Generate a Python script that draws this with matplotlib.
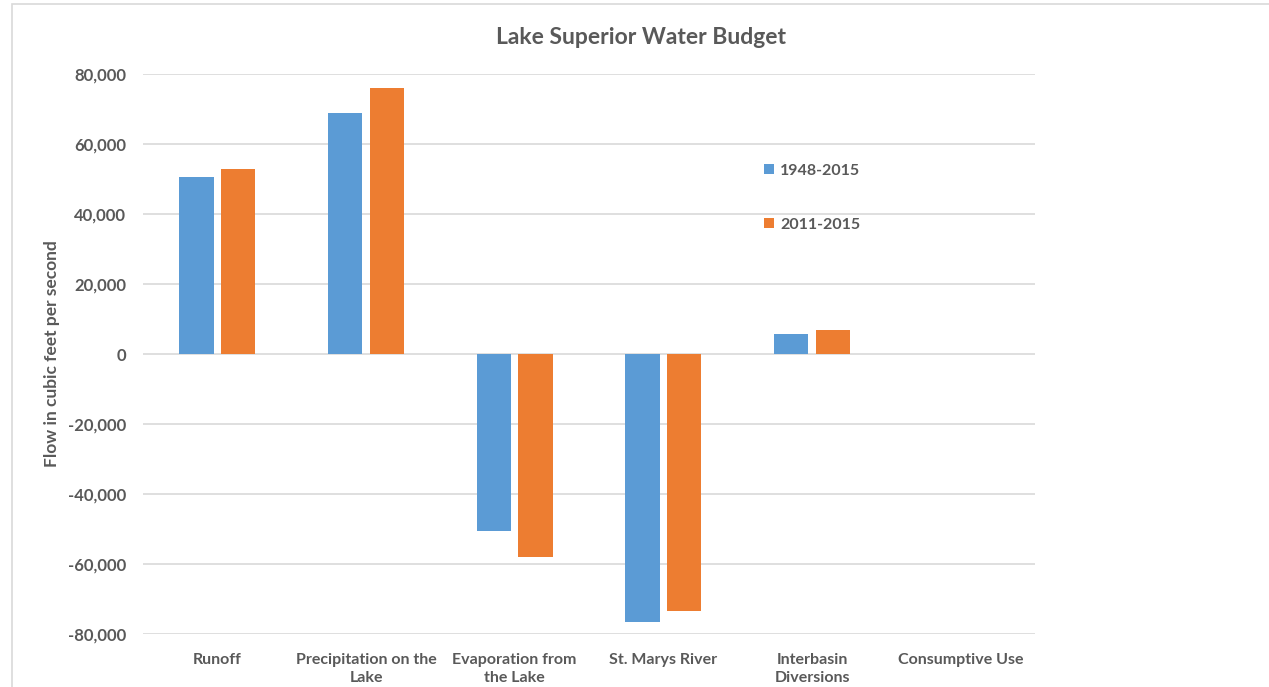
import numpy as np
import matplotlib.pyplot as plt
from matplotlib.patches import Rectangle
from matplotlib.ticker import FuncFormatter

plt.rcParams['font.family'] = ['Lato', 'DejaVu Sans']

categories = ['Runoff', 'Precipitation on the\nLake', 'Evaporation from\nthe Lake',
              'St. Marys River', 'Interbasin\nDiversions', 'Consumptive Use']
series_names = ['1948-2015', '2011-2015']
flow_1948_2015 = [50500, 68800, -50500, -76500, 5800, 0]
flow_2011_2015 = [52800, 76000, -58000, -73500, 6800, 0]

blue = '#5b9bd5'
orange = '#ed7d31'
grey = '#595959'

fig = plt.figure(figsize=(12.69, 6.87), dpi=100)
ax = fig.add_axes([0.1127, 0.0771, 0.7029, 0.8152])

# light frame around the chart, as in the cropped screenshot
fig.patches.append(Rectangle((12 / 1269, -0.1), 1.2, 1 - 4 / 687 + 0.1,
                             transform=fig.transFigure, fill=False,
                             edgecolor='#d9d9d9', linewidth=1.2))

x = np.arange(len(categories))
w = 0.23
ax.bar(x - 0.14, flow_1948_2015, w, color=blue, label=series_names[0], zorder=3)
ax.bar(x + 0.14, flow_2011_2015, w, color=orange, label=series_names[1], zorder=3)

ax.set_xlim(-0.5, len(categories) - 0.5)
ax.set_ylim(-80000, 80000)
ax.set_yticks(np.arange(-80000, 80001, 20000))
ax.yaxis.set_major_formatter(FuncFormatter(lambda v, p: f'{int(v):,}'))
ax.grid(axis='y', color='#d9d9d9', linewidth=1.2, zorder=0)
ax.set_xticks(x)
ax.set_xticklabels(categories, fontsize=11.5, fontweight='bold', color=grey,
                   linespacing=1.35, va='top')
for lab in ax.get_yticklabels():
    lab.set_fontsize(12)
    lab.set_fontweight('bold')
    lab.set_color(grey)
ax.tick_params(length=0)
ax.tick_params(axis='x', pad=14)
ax.tick_params(axis='y', pad=12)
for s in ax.spines.values():
    s.set_visible(False)

ax.set_ylabel('Flow in cubic feet per second', fontsize=12.5, fontweight='bold',
              color=grey)
ax.yaxis.set_label_coords(-0.093, 0.5)
fig.text(641 / 1269, 1 - 37 / 687, 'Lake Superior Water Budget', fontsize=16.5,
         fontweight='bold', color=grey, ha='center', va='center')

ax.legend(loc='upper left', bbox_to_anchor=(0.68, 0.865), frameon=False,
          handlelength=0.6, handleheight=0.6, handletextpad=0.4,
          labelspacing=2.5, prop={'size': 11.5, 'weight': 'bold'},
          labelcolor=grey)

fig.savefig('out.png', dpi=100, facecolor='white')
